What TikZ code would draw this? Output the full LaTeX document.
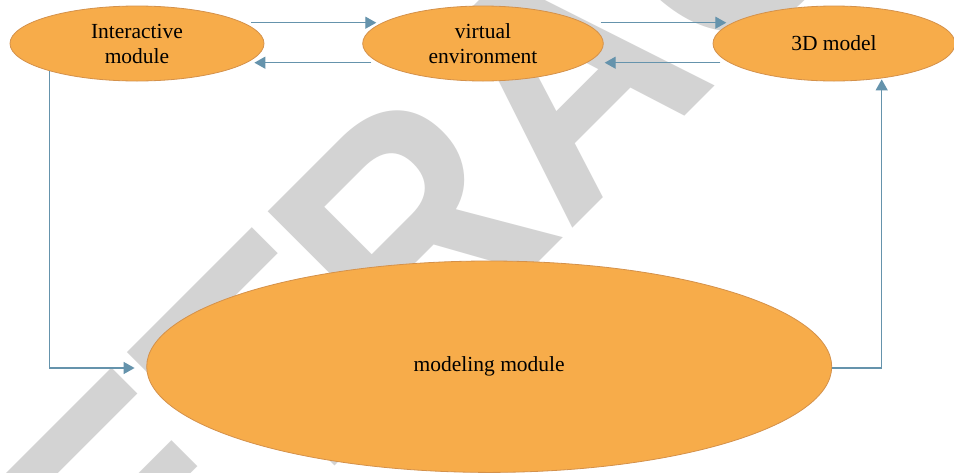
\documentclass[tikz,border=0pt]{standalone}
\usepackage{fontspec}
\setmainfont{Liberation Serif}
\newfontfamily\wmfont{Liberation Sans}
\usetikzlibrary{shapes.geometric,arrows.meta,calc}

\definecolor{boxfill}{HTML}{F7AC4A}
\definecolor{boxline}{HTML}{D4914A}
\definecolor{linkblue}{HTML}{6593AC}
\definecolor{wmgray}{HTML}{D3D3D3}

\tikzset{
  blob/.style={ellipse, draw=boxline, fill=boxfill, line width=0.8pt,
    inner sep=0pt, align=center, font=\fontsize{21.5}{25}\selectfont},
  link/.style={draw=linkblue, line width=1.3pt,
    -{Triangle[length=11pt,width=12pt]}},
  stamp/.style={text=wmgray, inner sep=0pt, anchor=base west,
    rotate=45, yscale=1.1,
    font=\wmfont\bfseries\fontsize{300}{300}\selectfont}
}

\begin{document}
\begin{tikzpicture}[x=1pt,y=-1pt]
  \useasboundingbox (0,0) rectangle (954,472);
  \fill[white] (0,0) rectangle (954,472);

  % diagonal stamp behind the diagram
  \begin{scope}
    \clip (0,0) rectangle (954,472);
    \node[stamp] (wm) at (-9.6,810.6) {RETRACTED};
  \end{scope}

  % modules
  \node[blob, minimum width=254pt, minimum height=75pt] (im) at (137,43.5) {Interactive\\module};
  \node[blob, minimum width=240.6pt, minimum height=75pt] (ve) at (483,43.5) {virtual\\environment};
  \node[blob, minimum width=242pt, minimum height=75pt] (tdm) at (834,43.5) {3D model};
  \node[blob, minimum width=685pt, minimum height=211.4pt] (mm) at (489.2,366.7) {modeling module};

  % links between the top row
  \draw[link] ($(im.east)+(-13,-20.8)$) -- ($(ve.west)+(14,-20.8)$);
  \draw[link] ($(ve.west)+(9,19.2)$) -- ($(im.east)+(-10,19.2)$);
  \draw[link] ($(ve.east)+(-3,-20.8)$) -- ($(tdm.west)+(13.7,-20.8)$);
  \draw[link] ($(tdm.west)+(7.7,19.2)$) -- ($(ve.east)+(1,19.2)$);

  % links through the modeling module
  \draw[link] ($(im.south)+(-87.7,-10.2)$) |- ($(mm.west)+(-11.7,1.3)$);
  \draw[link] ($(mm.east)+(0,1.3)$) -| ($(tdm.south)+(47.7,-2)$);
\end{tikzpicture}
\end{document}
